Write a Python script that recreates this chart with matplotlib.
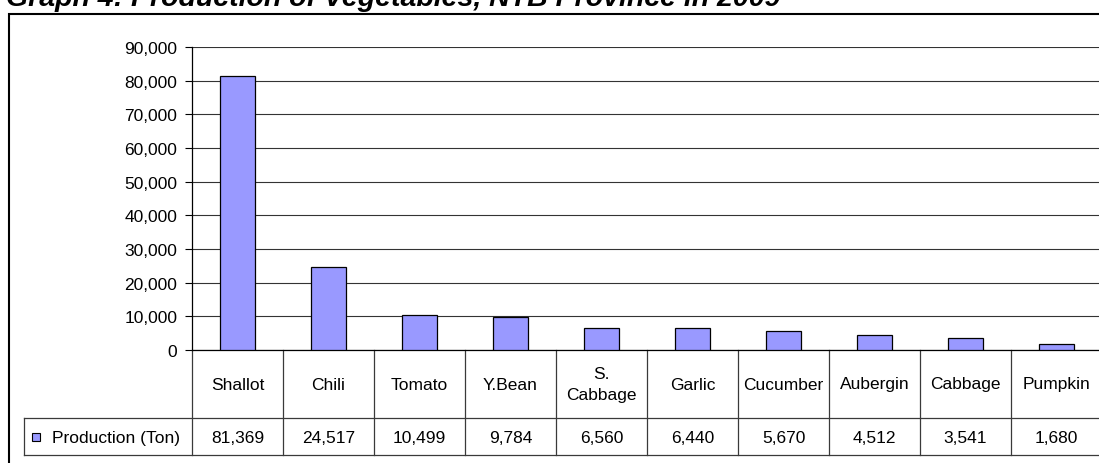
import matplotlib
matplotlib.use("Agg")
import matplotlib.pyplot as plt
import matplotlib.transforms as mtransforms
from matplotlib.patches import Rectangle
from matplotlib.ticker import FuncFormatter

categories = ["Shallot", "Chili", "Tomato", "Y.Bean", "S.\nCabbage", "Garlic",
              "Cucumber", "Aubergin", "Cabbage", "Pumpkin"]
production = [81369, 24517, 10499, 9784, 6560, 6440, 5670, 4512, 3541, 1680]
series_label = "Production (Ton)"
title = "Graph 4: Production of Vegetables, NTB Province in 2009"
yticks = list(range(0, 90001, 10000))

plt.rcParams['font.family'] = ['Liberation Sans', 'DejaVu Sans']
FS = 12.5
W, H = 1099, 464
fig = plt.figure(figsize=(W / 100, H / 100), dpi=100)
fig.patch.set_facecolor('white')

def fx(px):
    return px / W

def fy(py):
    return 1 - py / H

# plot area in pixels
L, R, T, B = 192, 1102, 48, 351
ax = fig.add_axes([fx(L), fy(B), fx(R - L), (B - T) / H])
ax.set_facecolor('none')
x = list(range(len(categories)))
ax.bar(x, production, width=0.385, color='#9999FF', edgecolor='black', linewidth=0.9, zorder=3)
ax.set_xlim(-0.5, len(categories) - 0.5)
ax.set_ylim(0, 90000)
ax.set_yticks(yticks)
ax.yaxis.set_major_formatter(FuncFormatter(lambda v, p: f"{int(v):,}"))
ax.yaxis.grid(True, color='#333333', linewidth=0.8, zorder=0)
ax.set_axisbelow(True)
ax.tick_params(axis='y', length=5, width=0.8, pad=5.5, labelsize=FS, direction='out')
ax.tick_params(axis='x', length=0, labelbottom=False)
for s in ['top', 'right']:
    ax.spines[s].set_visible(False)
ax.spines['left'].set_linewidth(0.9)
ax.spines['bottom'].set_linewidth(0.9)

# data table below axis
blend = mtransforms.blended_transform_factory(ax.transData, fig.transFigure)
tcol = '#3a3a3a'
row1_top, row1_bot, row2_bot = 351, 419, 456
for k in range(len(categories) + 1):
    ax.plot([k - 0.5, k - 0.5], [fy(row1_top), fy(row2_bot)], transform=blend,
            color=tcol, lw=0.9, clip_on=False)
for yy in (row1_bot, row2_bot):
    fig.add_artist(plt.Line2D([fx(24), 1.02], [fy(yy), fy(yy)], color=tcol, lw=0.9))
fig.add_artist(plt.Line2D([fx(24), fx(24)], [fy(row1_bot), fy(row2_bot)], color=tcol, lw=0.9))

for i, (c, v) in enumerate(zip(categories, production)):
    ax.text(i, fy((row1_top + row1_bot) / 2), c, transform=blend, ha='center', va='center',
            fontsize=FS, linespacing=1.5, clip_on=False)
    ax.text(i, fy((row1_bot + row2_bot) / 2 + 1), f"{v:,}", transform=blend, ha='center',
            va='center', fontsize=FS, clip_on=False)

# legend key in table
fig.add_artist(Rectangle((fx(32), fy(442)), fx(8), 8 / H, facecolor='#9999FF',
                         edgecolor='black', lw=0.8, transform=fig.transFigure))
fig.text(fx(52), fy((row1_bot + row2_bot) / 2 + 1), series_label, ha='left', va='center',
         fontsize=FS)

# outer chart frame
fig.add_artist(Rectangle((fx(9), -0.1), 1.2, fy(15) + 0.1, fill=False, edgecolor='black',
                         lw=1.5, transform=fig.transFigure))

# title (partly cut off at top, as in the reference)
fig.text(fx(6), fy(6.5), title, ha='left', va='baseline', fontsize=20.5,
         fontweight='bold', fontstyle='italic')

fig.savefig("out.png", dpi=100)
